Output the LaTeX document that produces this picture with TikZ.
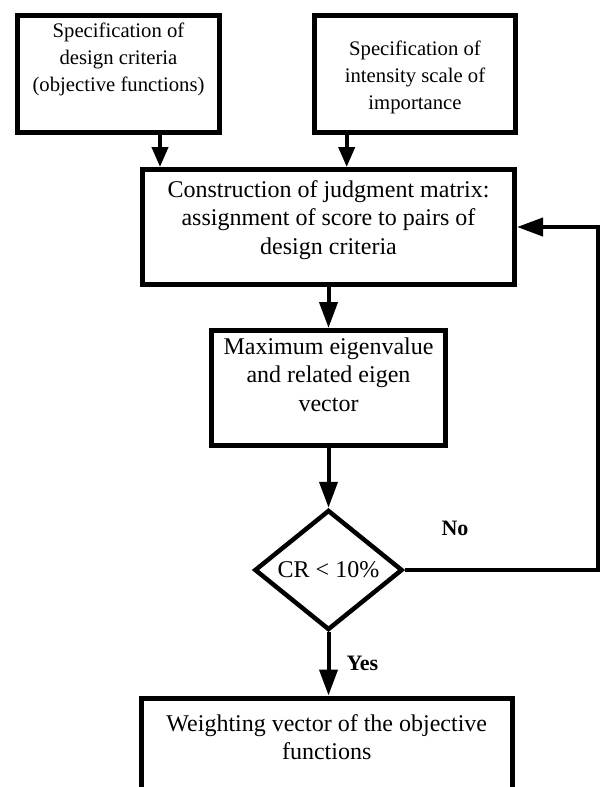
\documentclass[tikz,border=0pt]{standalone}
\usepackage{fontspec}
\setmainfont{Liberation Serif}
\usetikzlibrary{arrows.meta,shapes.geometric}
\begin{document}
\begin{tikzpicture}[x=1pt,y=-1pt,
  box/.style={draw,line width=5pt,rectangle,inner sep=0pt,align=center},
  bigtxt/.style={font=\fontsize{24}{28.5}\selectfont},
  smalltxt/.style={font=\fontsize{20.7}{27}\selectfont},
  conn/.style={line width=4pt,-{Triangle[length=26pt,width=18pt]}},
  shortconn/.style={line width=4pt,-{Triangle[length=20pt,width=16pt]}},
  lab/.style={font=\fontsize{22}{26}\selectfont\bfseries,inner sep=0pt}]
\useasboundingbox (0,0) rectangle (601,787);
\clip (0,0) rectangle (601,787);
\fill[white] (0,0) rectangle (601,787);
% boxes
\node[box,smalltxt,minimum width=202pt,minimum height=117pt] (crit) at (118.5,74)
  {Specification of\\design criteria\\(objective functions)\rule[-33pt]{0pt}{0pt}};
\node[box,smalltxt,minimum width=201pt,minimum height=117pt] (scale) at (415,74)
  {\rule{0pt}{21pt}Specification of\\intensity scale of\\importance};
\node[box,bigtxt,minimum width=372pt,minimum height=115pt] (judg) at (328.5,227)
  {Construction of judgment matrix:\\assignment of score to pairs of\\design criteria\rule[-19pt]{0pt}{0pt}};
\node[box,bigtxt,minimum width=234pt,minimum height=115pt] (eig) at (328.5,388)
  {Maximum eigenvalue\\and related eigen\\vector\rule[-27pt]{0pt}{0pt}};
\node[draw,diamond,line width=4.5pt,inner sep=0pt,minimum width=148pt,minimum height=120pt,bigtxt] (cr) at (328.5,570)
  {CR < 10\%};
\node[box,bigtxt,minimum width=370.5pt,inner ysep=16.5pt,anchor=north] (wv) at (326.75,695.5)
  {Weighting vector of the objective\\functions\rule[-150pt]{0pt}{0pt}};
% connectors
\coordinate (a1) at ([xshift=41.5pt]crit.south);
\coordinate (a2) at ([xshift=-68.3pt]scale.south);
\draw[shortconn] (a1) -- (a1 |- judg.north);
\draw[shortconn] (a2) -- (a2 |- judg.north);
\draw[conn] (judg.south) -- (eig.north);
\draw[conn] (eig.south) -- (cr.north);
\draw[conn] (cr.south) -- node[lab,right=16pt] {Yes} (cr.south |- wv.north);
\coordinate (fb) at (598,570);
\draw[conn] (cr.east) -- (fb) |- (judg.east);
\node[lab] (no) at (455,528) {No};
\end{tikzpicture}
\end{document}
